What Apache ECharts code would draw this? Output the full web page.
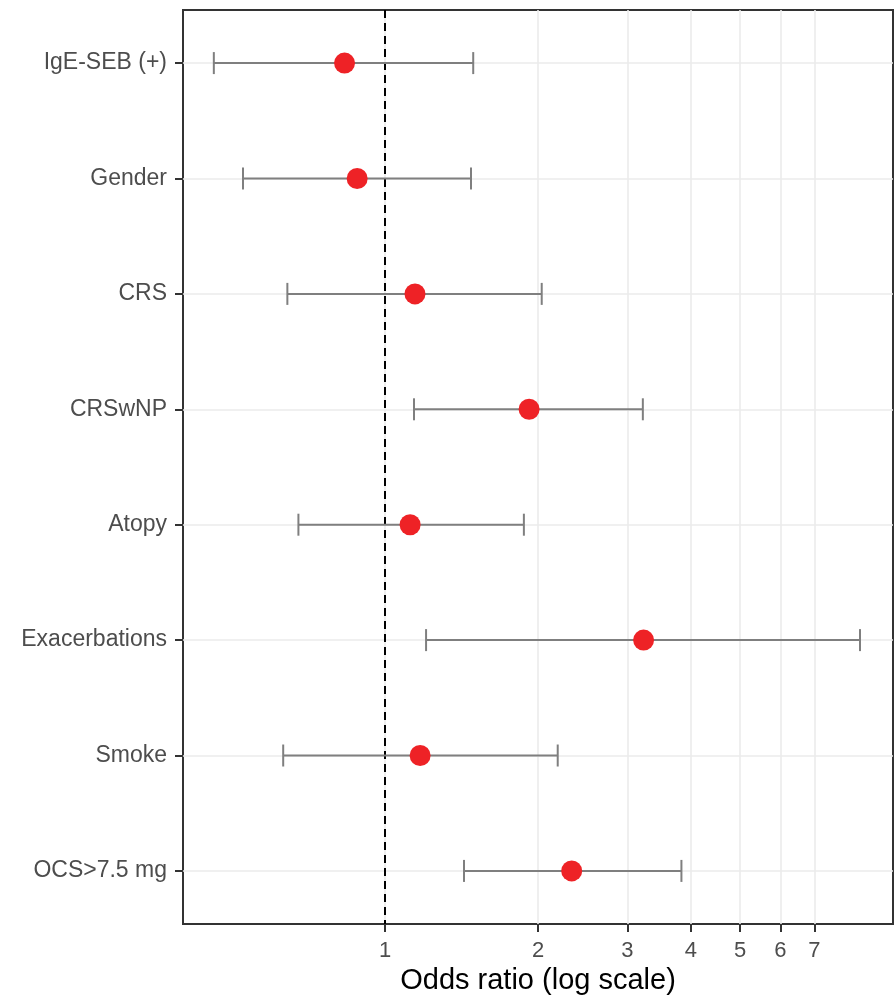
<!DOCTYPE html>
<html><head><meta charset="utf-8">
<script src="https://cdn.jsdelivr.net/npm/echarts@6/dist/echarts.min.js"></script>
<style>html,body{margin:0;padding:0;background:#fff}#c{width:895px;height:1001px}</style>
</head><body><div id="c"></div>
<script>
const categories = ['IgE-SEB (+)','Gender','CRS','CRSwNP','Atopy','Exacerbations','Smoke','OCS>7.5 mg'];
const oddsRatio = [0.832,0.881,1.145,1.921,1.120,3.228,1.172,2.330];
const ciLower = [0.460,0.525,0.642,1.140,0.675,1.204,0.630,1.430];
const ciUpper = [1.491,1.476,2.034,3.217,1.876,8.610,2.187,3.832];
const xTicks = [1,2,3,4,5,6,7];
const rowIdx = categories.map((c,i)=>i);

const FONT = "'Liberation Sans', Arial, sans-serif";
const chart = echarts.init(document.getElementById('c'), null, {renderer:'canvas'});
chart.setOption({
  animation:false,
  backgroundColor:'#fff',
  grid:{left:183,right:2,top:10,bottom:77,show:true,borderColor:'#333',borderWidth:2,backgroundColor:'transparent'},
  xAxis:{
    type:'log', min:0.4, max:10,
    name:'Odds ratio (log scale)', nameLocation:'middle', nameGap:39,
    nameTextStyle:{color:'#000',fontSize:29,fontFamily:FONT},
    axisLine:{show:false,onZero:false},
    axisTick:{show:true,length:8,inside:false,customValues:xTicks,lineStyle:{color:'#333',width:2}},
    axisLabel:{customValues:xTicks,color:'#4D4D4D',fontSize:22,fontFamily:FONT,margin:16,formatter:v=>String(v)},
    splitLine:{show:true,lineStyle:{color:'#EBEBEB',width:1.6}},
    minorSplitLine:{show:false}
  },
  yAxis:{
    type:'value', inverse:true, min:-0.46, max:7.46,
    axisLine:{show:false,onZero:false},
    axisTick:{show:true,length:8,customValues:rowIdx,lineStyle:{color:'#333',width:2}},
    axisLabel:{customValues:rowIdx,color:'#4D4D4D',fontSize:23,fontFamily:FONT,margin:16,formatter:v=>categories[Math.round(v)]},
    splitLine:{show:true,lineStyle:{color:'#EBEBEB',width:1.6}}
  },
  series:[
    {
      type:'custom', z:2,
      data: rowIdx.map(i=>[i,ciLower[i],ciUpper[i]]),
      encode:{x:[1,2],y:0},
      renderItem:function(params,api){
        const y=api.value(0);
        const lo=api.coord([api.value(1),y]);
        const hi=api.coord([api.value(2),y]);
        const h=11, st={stroke:'#7F7F7F',lineWidth:2};
        return {type:'group',children:[
          {type:'line',shape:{x1:lo[0],y1:lo[1],x2:hi[0],y2:hi[1]},style:st},
          {type:'line',shape:{x1:lo[0],y1:lo[1]-h,x2:lo[0],y2:lo[1]+h},style:st},
          {type:'line',shape:{x1:hi[0],y1:hi[1]-h,x2:hi[0],y2:hi[1]+h},style:st}
        ]};
      }
    },
    {
      type:'scatter', z:3, symbol:'circle', symbolSize:21,
      itemStyle:{color:'#EE2226',opacity:1},
      data: rowIdx.map(i=>[oddsRatio[i],i]),
      markLine:{silent:true,symbol:'none',label:{show:false},z:1,
        lineStyle:{color:'#000',type:[8,5],width:2,opacity:1},
        data:[{xAxis:1}]}
    }
  ]
});
</script></body></html>
